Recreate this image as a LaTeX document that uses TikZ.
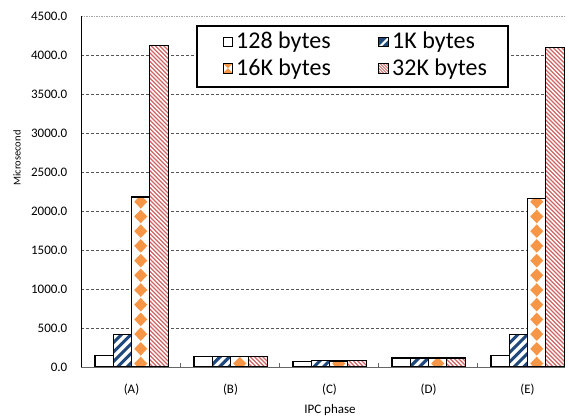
\documentclass[tikz,border=0pt]{standalone}
\usepackage{fontspec}
\setmainfont{Carlito}
\definecolor{navy}{RGB}{31,73,125}
\definecolor{orng}{RGB}{247,150,70}
\definecolor{redl}{RGB}{210,100,100}
\definecolor{gridc}{RGB}{85,85,85}
\tikzset{
  gridline/.style={gridc,line width=0.6pt,dash pattern=on 3pt off 2pt},
  topgrid/.style={gray!70,line width=0.9pt,dash pattern=on 1.5pt off 1pt},
  barline/.style={black,line width=1.1pt},
  ticklab/.style={anchor=east,inner sep=0pt,font=\fontsize{13}{13}\selectfont},
  catlab/.style={anchor=base,inner sep=0pt,font=\fontsize{13}{13}\selectfont},
  leglab/.style={anchor=base west,inner sep=0pt,font=\fontsize{24}{24}\selectfont},
  kline/.style={navy,line width=3.1pt},
  rline/.style={redl,line width=1.25pt},
  swatch/.style={black,line width=0.9pt}
}
\begin{document}
\begin{tikzpicture}[x=1pt,y=-1pt]
\useasboundingbox (0,0) rectangle (569,419);
% gridlines
\foreach \v in {500,1000,...,4000}
  \draw[gridline] (81,{367-0.078*\v}) -- (565,{367-0.078*\v});
\draw[topgrid] (81,16) -- (565,16);
% tick labels
\foreach \v in {0,500,...,4500}
  \node[ticklab] at (67.5,{367-0.078*\v}) {\v.0};
% bars
\foreach \k/\a/\b/\c/\d in {0/150/420/2180/4120,1/130/140/130/130,2/75/78/77/85,3/115/115/115/115,4/145/414/2160/4100}{
  \pgfmathsetmacro\xo{81+99*\k+14}
  \pgfmathsetmacro\xa{\xo+18.3}
  \pgfmathsetmacro\xb{\xo+36.6}
  \pgfmathsetmacro\xc{\xo+54.9}
  \pgfmathsetmacro\xd{\xo+73.2}
  \pgfmathsetmacro\ya{367-0.078*\a}
  \pgfmathsetmacro\yb{367-0.078*\b}
  \pgfmathsetmacro\yc{367-0.078*\c}
  \pgfmathsetmacro\yd{367-0.078*\d}
  % 128 bytes
  \draw[barline,fill=white] (\xo,367) rectangle (\xa,\ya);
  % 1K bytes
  \fill[white] (\xa,367) rectangle (\xb,\yb);
  \begin{scope}
    \clip (\xa,367) rectangle (\xb,\yb);
    \pgfmathsetmacro\hb{367-\yb+2}
    \pgfmathsetmacro\tsa{-\hb}
    \pgfmathsetmacro\tsb{-\hb+9.5}
    \foreach \t in {\tsa,\tsb,...,19}
      \draw[kline] (\xa+\t,368) -- (\xa+\t+\hb,368-\hb);
  \end{scope}
  \draw[barline] (\xa,367) rectangle (\xb,\yb);
  % 16K bytes
  \fill[white] (\xb,367) rectangle (\xc,\yc);
  \begin{scope}
    \clip (\xb,367) rectangle (\xc,\yc);
    \pgfmathsetmacro\cx{(\xb+\xc)/2}
    \pgfmathtruncatemacro\nd{(367-\yc)/14.7+1}
    \foreach \n in {0,...,\nd}{
      \pgfmathsetmacro\cy{363.5-14.7*\n}
      \fill[orng] (\cx-6.5,\cy) -- (\cx,\cy-6.8) -- (\cx+6.5,\cy) -- (\cx,\cy+6.8) -- cycle;
    }
  \end{scope}
  \draw[barline] (\xb,367) rectangle (\xc,\yc);
  % 32K bytes
  \fill[white] (\xc,367) rectangle (\xd,\yd);
  \begin{scope}
    \clip (\xc,367) rectangle (\xd,\yd);
    \pgfmathsetmacro\hd{367-\yd+2}
    \pgfmathsetmacro\tea{\hd+20}
    \foreach \t in {0,4.2,...,\tea}
      \draw[rline] (\xc+\t,368) -- (\xc+\t-\hd,368-\hd);
  \end{scope}
  \draw[barline] (\xc,367) rectangle (\xd,\yd);
}
% axes
\draw[gray!80!black,line width=0.9pt] (81,367) -- (565,367);
\foreach \k in {1,2,3,4}
  \draw[gray!80!black,line width=0.8pt] ({81+99*\k},367) -- ({81+99*\k},363);
\draw[black,line width=0.9pt] (81,16) -- (81,367);
% category labels
\foreach \k/\l in {0/(A),1/(B),2/(C),3/(D),4/(E)}
  \node[catlab] at ({81+99*\k+50.5},393) {\l};
\node[catlab] (xl) at (330,413) {IPC phase};
\node[rotate=90,inner sep=0pt,font=\fontsize{10.5}{10.5}\selectfont] (yl) at (17,158) {Microsecond};
% legend
\draw[black,line width=1.6pt,fill=white] (197,26) rectangle (508,87);
% swatch 128
\draw[swatch,fill=white] (223,37) rectangle (232.5,46.5);
\node[leglab] at (236,49) {128 bytes};
% swatch 1K
\fill[navy] (378.5,37) rectangle (388,46.5);
\fill[white] (378.5,46.5) -- (381.5,46.5) -- (388,40) -- (388,37) -- cycle;
\draw[swatch] (378.5,37) rectangle (388,46.5);
\node[leglab] at (392,49) {1K bytes};
% swatch 16K
\fill[white] (223,63.5) rectangle (232.5,73);
\fill[orng] (223,63.5) -- (232.5,63.5) -- (227.75,68.25) -- cycle;
\fill[orng] (223,73) -- (232.5,73) -- (227.75,68.25) -- cycle;
\draw[swatch] (223,63.5) rectangle (232.5,73);
\node[leglab] at (236,76) {16K bytes};
% swatch 32K
\fill[white] (378.5,63.5) rectangle (388,73);
\begin{scope}
  \clip (378.5,63.5) rectangle (388,73);
  \foreach \t in {0,3,...,24}
    \draw[redl,line width=1pt] (378.5+\t,74) -- (378.5+\t-12,62);
\end{scope}
\draw[swatch] (378.5,63.5) rectangle (388,73);
\node[leglab] at (392,76) {32K bytes};
\end{tikzpicture}
\end{document}
